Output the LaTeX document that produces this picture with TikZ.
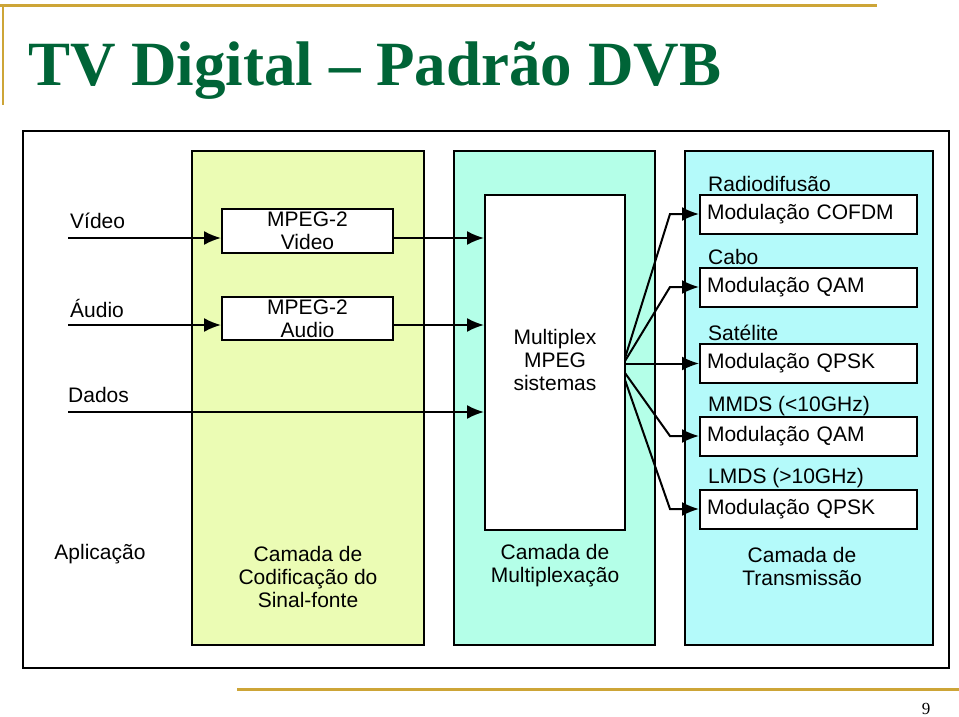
\documentclass[tikz,border=0pt]{standalone}
\usepackage{fontspec}
\setmainfont{Liberation Sans}
\newfontfamily\titlefont{Liberation Serif}
\usetikzlibrary{arrows.meta}
\definecolor{titlegreen}{RGB}{0,100,55}
\definecolor{gold}{RGB}{205,165,55}
\definecolor{codfill}{RGB}{235,252,180}
\definecolor{muxfill}{RGB}{180,255,232}
\definecolor{txfill}{RGB}{180,250,250}
\tikzset{
  every node/.style={font=\fontsize{21}{23}\selectfont},
  panel/.style={draw, line width=2pt, inner sep=0pt},
  blk/.style={draw, fill=white, line width=2pt, inner sep=0pt, align=center},
  modbox/.style={draw, fill=white, line width=2pt, minimum width=217pt,
    minimum height=39pt, text width=203pt, inner xsep=7pt, inner ysep=0pt, align=left},
  lbl/.style={anchor=west, inner sep=0pt},
  arr/.style={line width=2pt, -{Latex[length=17pt,width=14pt]}},
}
\begin{document}
\begin{tikzpicture}[x=1pt,y=-1pt]
  \useasboundingbox (0,0) rectangle (959,717);

  % Slide frame
  \draw[gold, line width=3pt] (0,6) -- (877,6);
  \draw[gold, line width=2.5pt] (3,6) -- (3,105);
  \draw[gold, line width=3pt] (237,689) -- (959,689);
  \node[anchor=base west, inner sep=0pt, text=titlegreen,
    font=\titlefont\bfseries\fontsize{63}{63}\selectfont] (title) at (28,85) {TV Digital – Padrão DVB};
  \node[font=\titlefont\fontsize{17}{17}\selectfont] (page) at (926,709) {9};

  % Outer frame
  \draw[line width=2.5pt] (23,131) rectangle (949,668);

  % Layers
  \node[panel, fill=codfill, minimum width=232pt, minimum height=494pt] (cod) at (308,398) {};
  \node[panel, fill=muxfill, minimum width=201pt, minimum height=494pt] (muxl) at (554.5,398) {};
  \node[panel, fill=txfill, minimum width=248pt, minimum height=494pt] (txl) at (809,398) {};

  % Blocks
  \node[blk, minimum width=171pt, minimum height=44pt] (vid) at (307.5,231) {MPEG-2\\Video};
  \node[blk, minimum width=171pt, minimum height=43pt] (aud) at (307.5,318.5) {MPEG-2\\Audio};
  \node[blk, minimum width=140pt, minimum height=335pt] (mux) at (555,362.5) {};
  \node[align=center] (muxtxt) at (555,359.5) {Multiplex\\MPEG\\sistemas};

  \node[modbox] (mod1) at (808.5,214) {Modulação COFDM};
  \node[modbox] (mod2) at (808.5,287) {Modulação QAM};
  \node[modbox] (mod3) at (808.5,363.5) {Modulação QPSK};
  \node[modbox] (mod4) at (808.5,436) {Modulação QAM};
  \node[modbox] (mod5) at (808.5,509) {Modulação QPSK};

  \node[lbl] (rad) at (708,184) {Radiodifusão};
  \node[lbl] (cab) at (708,257) {Cabo};
  \node[lbl] (sat) at (708,333) {Satélite};
  \node[lbl] (mmds) at (708,406) {MMDS (<10GHz)};
  \node[lbl] (lmds) at (708,478) {LMDS (>10GHz)};

  % Inputs
  \node[lbl] (vlbl) at (70,221) {Vídeo};
  \node[lbl] (albl) at (70,308) {Áudio};
  \node[lbl] (dlbl) at (68,395) {Dados};
  \coordinate (vin) at (68,238);
  \coordinate (ain) at (68,325);
  \coordinate (din) at (68,412);

  \draw[arr] (vin) -- (vin -| vid.west);
  \draw[arr] (ain) -- (ain -| aud.west);
  \draw[arr] (din) -- (din -| mux.west);
  \draw[arr] (vin -| vid.east) -- (vin -| mux.west);
  \draw[arr] (ain -| aud.east) -- (ain -| mux.west);

  % Fan out
  \coordinate (bend) at (670,0);
  \foreach \i/\y in {1/358,2/361,4/373,5/380}
  {
    \coordinate (f\i) at (625,\y);
    \draw[arr] (f\i) -- (mod\i.west -| bend) -- (mod\i.west);
  }
  \draw[arr] (mod3.west -| mux.east) -- (mod3.west);

  % Captions
  \node (app) at (100,554) {Aplicação};
  \node[align=center] (codcap) at (308,577) {Camada de\\Codificação do\\Sinal-fonte};
  \node[align=center] (muxcap) at (555,566) {Camada de\\Multiplexação};
  \node[align=center] (txcap) at (802,566) {Camada de\\Transmissão};
\end{tikzpicture}
\end{document}
